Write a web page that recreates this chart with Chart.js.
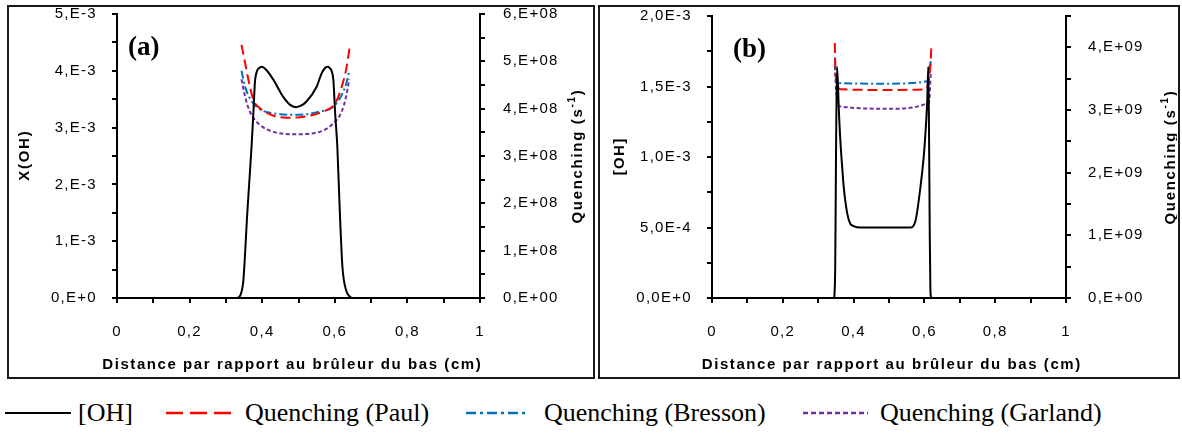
<!DOCTYPE html>
<html><head><meta charset="utf-8">
<script src="https://cdn.jsdelivr.net/npm/chart.js@4.4.1/dist/chart.umd.min.js"></script>
<style>
body{margin:0;background:#fff;width:1182px;height:434px;overflow:hidden;position:relative}
.box{position:absolute;border:2px solid #1a1a1a;box-sizing:border-box}
.cv{position:absolute}
.lt{position:absolute;top:396px;font-family:'Liberation Serif','Times New Roman',serif;font-size:26px;line-height:34px;white-space:nowrap;color:#000}
svg.ls{position:absolute;top:396px;height:34px}
</style></head>
<body>
<div class="box" style="left:7px;top:5px;width:588px;height:374px"></div>
<div class="box" style="left:598px;top:5px;width:582px;height:374px"></div>
<div class="cv" style="left:9px;top:7px;width:583px;height:371px"><canvas id="ca"></canvas></div>
<div class="cv" style="left:600px;top:7px;width:577px;height:371px"><canvas id="cb"></canvas></div>

<svg class="ls" style="left:5px;width:66px"><line x1="0" y1="17" x2="66" y2="17" stroke="#000" stroke-width="2"/></svg>
<div class="lt" style="left:78px">[OH]</div>
<svg class="ls" style="left:166px;width:65px"><line x1="0" y1="17" x2="65" y2="17" stroke="#ff0000" stroke-width="2.5" stroke-dasharray="17 7"/></svg>
<div class="lt" style="left:245px">Quenching (Paul)</div>
<svg class="ls" style="left:466px;width:63px"><line x1="0" y1="17" x2="63" y2="17" stroke="#0070c0" stroke-width="2.5" stroke-dasharray="10 4 3 4"/></svg>
<div class="lt" style="left:544px">Quenching (Bresson)</div>
<svg class="ls" style="left:803px;width:65px"><line x1="0" y1="17" x2="65" y2="17" stroke="#7030a0" stroke-width="2.5" stroke-dasharray="5 3"/></svg>
<div class="lt" style="left:880px">Quenching (Garland)</div>

<script>
// ---------- Shared x ticks ----------
const xTickValues = [0, 0.1, 0.2, 0.3, 0.4, 0.5, 0.6, 0.7, 0.8, 0.9, 1];
const xTickLabels = ['0', '', '0,2', '', '0,4', '', '0,6', '', '0,8', '', '1'];

// ---------- Panel (a) ----------
const aOhX = [0, 0.330, 0.340, 0.348, 0.353, 0.358, 0.364, 0.371, 0.376, 0.380, 0.386, 0.392, 0.399, 0.412, 0.431, 0.458, 0.477, 0.493, 0.508, 0.522, 0.550, 0.564, 0.572, 0.579, 0.586, 0.591, 0.596, 0.601, 0.607, 0.614, 0.621, 0.631, 0.642, 0.650, 1];
const aOhY = [0, 0, 0.05e-3, 0.30e-3, 0.80e-3, 1.40e-3, 2.00e-3, 2.70e-3, 3.30e-3, 3.80e-3, 4.00e-3, 4.05e-3, 4.07e-3, 4.01e-3, 3.84e-3, 3.54e-3, 3.40e-3, 3.36e-3, 3.39e-3, 3.46e-3, 3.72e-3, 3.96e-3, 4.04e-3, 4.07e-3, 4.05e-3, 4.00e-3, 3.84e-3, 3.25e-3, 2.66e-3, 1.49e-3, 0.55e-3, 0.14e-3, 0.02e-3, 0, 0];

const aPaulX = [0.343, 0.353, 0.362, 0.376, 0.394, 0.431, 0.467, 0.504, 0.541, 0.577, 0.601, 0.619, 0.631, 0.642];
const aPaulY = [5.35e8, 4.96e8, 4.61e8, 4.18e8, 4.01e8, 3.85e8, 3.81e8, 3.82e8, 3.87e8, 3.97e8, 4.11e8, 4.46e8, 4.82e8, 5.35e8];
const aBressonX = [0.343, 0.353, 0.366, 0.389, 0.431, 0.495, 0.559, 0.596, 0.619, 0.632, 0.640];
const aBressonY = [4.80e8, 4.46e8, 4.22e8, 4.01e8, 3.90e8, 3.87e8, 3.94e8, 4.04e8, 4.29e8, 4.54e8, 4.80e8];
const aGarlandX = [0.343, 0.353, 0.366, 0.389, 0.431, 0.495, 0.559, 0.596, 0.619, 0.631, 0.640];
const aGarlandY = [4.62e8, 4.25e8, 3.94e8, 3.69e8, 3.51e8, 3.46e8, 3.51e8, 3.69e8, 3.94e8, 4.25e8, 4.62e8];

const aLeftTickValues = [0, 0.5e-3, 1e-3, 1.5e-3, 2e-3, 2.5e-3, 3e-3, 3.5e-3, 4e-3, 4.5e-3, 5e-3];
const aLeftTickLabels = ['0,E+0', '', '1,E-3', '', '2,E-3', '', '3,E-3', '', '4,E-3', '', '5,E-3'];
const aRightTickValues = [0, 0.5e8, 1e8, 1.5e8, 2e8, 2.5e8, 3e8, 3.5e8, 4e8, 4.5e8, 5e8, 5.5e8, 6e8];
const aRightTickLabels = ['0,E+00', '', '1,E+08', '', '2,E+08', '', '3,E+08', '', '4,E+08', '', '5,E+08', '', '6,E+08'];

// ---------- Panel (b) ----------
const bOhX = [0, 0.344, 0.348, 0.350, 0.353, 0.356, 0.358, 0.363, 0.368, 0.372, 0.382, 0.390, 0.400, 0.420, 0.500, 0.560, 0.575, 0.589, 0.598, 0.603, 0.608, 0.611, 0.613, 0.615, 0.617, 0.620, 1];
const bOhY = [0, 0, 0.2e-3, 0.9e-3, 1.64e-3, 1.5e-3, 1.35e-3, 1.1e-3, 0.92e-3, 0.79e-3, 0.60e-3, 0.53e-3, 0.51e-3, 0.50e-3, 0.50e-3, 0.50e-3, 0.55e-3, 0.79e-3, 1.00e-3, 1.17e-3, 1.40e-3, 1.64e-3, 1.2e-3, 0.5e-3, 0.05e-3, 0, 0];

const bPaulX = [0.347, 0.348, 0.353, 0.363, 0.500, 0.603, 0.613, 0.618, 0.620];
const bPaulY = [4.07e9, 3.75e9, 3.43e9, 3.33e9, 3.32e9, 3.33e9, 3.49e9, 3.81e9, 4.05e9];
const bBressonX = [0.347, 0.351, 0.358, 0.500, 0.608, 0.618];
const bBressonY = [3.84e9, 3.54e9, 3.43e9, 3.42e9, 3.46e9, 3.78e9];
const bGarlandX = [0.347, 0.351, 0.358, 0.500, 0.613, 0.618];
const bGarlandY = [3.70e9, 3.28e9, 3.06e9, 3.02e9, 3.12e9, 3.60e9];

const bLeftTickValues = [0, 0.25e-3, 0.5e-3, 0.75e-3, 1e-3, 1.25e-3, 1.5e-3, 1.75e-3, 2e-3];
const bLeftTickLabels = ['0,0E+0', '', '5,0E-4', '', '1,0E-3', '', '1,5E-3', '', '2,0E-3'];
const bRightTickValues = [0, 0.5e9, 1e9, 1.5e9, 2e9, 2.5e9, 3e9, 3.5e9, 4e9, 4.5e9];
const bRightTickLabels = ['0,E+00', '', '1,E+09', '', '2,E+09', '', '3,E+09', '', '4,E+09', ''];

// ---------- helpers ----------
const pts = (xs, ys) => xs.map((x, i) => ({ x: x, y: ys[i] }));
const TICK_FONT = { family: "'Liberation Sans', Arial, sans-serif", size: 15 };

function series(label, xs, ys, axis, color, dash) {
  return {
    label: label, data: pts(xs, ys), yAxisID: axis,
    borderColor: color, backgroundColor: color, borderWidth: 2,
    borderDash: dash, pointRadius: 0, fill: false,
    cubicInterpolationMode: 'monotone'
  };
}

function axis(pos, min, max, values, labels, width, pad) {
  return {
    type: 'linear', position: pos, min: min, max: max,
    afterBuildTicks: s => { s.ticks = values.map(v => ({ value: v })); },
    afterFit: s => {
      if (pos === 'bottom') { s.height = width; s.paddingLeft = 0; s.paddingRight = 0; }
      else { s.width = width; s.paddingTop = 0; s.paddingBottom = 0; }
    },
    ticks: {
      autoSkip: false, maxRotation: 0, padding: pad, color: '#000', font: TICK_FONT,
      callback: (v, i) => labels[i]
    },
    grid: { drawOnChartArea: false, drawTicks: true, tickLength: 5, color: '#000', tickColor: '#000', lineWidth: 2 },
    border: { display: true, color: '#000', width: 2 }
  };
}

function drawFitted(ctx, text, cx, cy, len, font, rot) {
  ctx.save();
  ctx.font = font;
  ctx.letterSpacing = '0px';
  const w = ctx.measureText(text).width;
  const sp = len ? Math.max(0, (len - w) / text.length) : 0;
  ctx.letterSpacing = sp + 'px';
  ctx.translate(cx, cy); ctx.rotate(rot);
  ctx.textAlign = 'center'; ctx.textBaseline = 'middle'; ctx.fillStyle = '#000';
  ctx.fillText(text, sp / 2, 0);
  ctx.restore();
}

function drawQuenchTitle(ctx, cx, cy, len) {
  ctx.save();
  const f1 = "bold 15px 'Liberation Sans', Arial, sans-serif";
  const f2 = "bold 10px 'Liberation Sans', Arial, sans-serif";
  const parts = [['Quenching (s', f1, 0], ['-1', f2, -6], [')', f1, 0]];
  ctx.letterSpacing = '0px';
  let w = 0, n = 0;
  parts.forEach(p => { ctx.font = p[1]; w += ctx.measureText(p[0]).width; n += p[0].length; });
  const sp = Math.max(0, (len - w) / n);
  ctx.letterSpacing = sp + 'px';
  let total = 0;
  parts.forEach(p => { ctx.font = p[1]; p.push(ctx.measureText(p[0]).width); total += p[3]; });
  ctx.translate(cx, cy); ctx.rotate(-Math.PI / 2);
  ctx.textAlign = 'left'; ctx.textBaseline = 'middle'; ctx.fillStyle = '#000';
  let x = -total / 2;
  parts.forEach(p => { ctx.font = p[1]; ctx.fillText(p[0], x, p[2]); x += p[3]; });
  ctx.restore();
}

function titlesPlugin(cfg) {
  return {
    id: 'titles',
    beforeDraw: chart => { chart.ctx.letterSpacing = '1.3px'; },
    afterDraw: chart => {
      const ctx = chart.ctx, a = chart.chartArea;
      const midY = (a.top + a.bottom) / 2;
      const bold = "bold 15px 'Liberation Sans', Arial, sans-serif";
      drawFitted(ctx, cfg.left, a.left - cfg.leftOff, midY, cfg.leftLen, bold, -Math.PI / 2);
      drawQuenchTitle(ctx, a.right + cfg.rightOff, midY, 135);
      drawFitted(ctx, 'Distance par rapport au brûleur du bas (cm)', (a.left + a.right) / 2 + cfg.xShift, a.bottom + 67, 380, bold, 0);
      ctx.save();
      ctx.letterSpacing = '0px';
      ctx.font = "bold 27px 'Liberation Serif', 'Times New Roman', serif";
      ctx.textAlign = 'left'; ctx.textBaseline = 'middle'; ctx.fillStyle = '#000';
      ctx.fillText(cfg.tag, a.left + cfg.tagX, a.top + cfg.tagY);
      ctx.restore();
      ctx.letterSpacing = '1.3px';
    }
  };
}

function makeChart(id, datasets, xAx, yAx, y1Ax, padTop, tcfg) {
  return new Chart(document.getElementById(id), {
    type: 'line',
    data: { datasets: datasets },
    options: {
      responsive: true, maintainAspectRatio: false, animation: false,
      layout: { padding: { top: padTop, left: 0, right: 0, bottom: 0 } },
      plugins: { legend: { display: false }, tooltip: { enabled: false } },
      scales: { x: xAx, y: yAx, y1: y1Ax }
    },
    plugins: [titlesPlugin(tcfg)]
  });
}

makeChart('ca', [
  series('[OH]', aOhX, aOhY, 'y', '#000000', []),
  series('Quenching (Paul)', aPaulX, aPaulY, 'y1', '#ff0000', [10, 5]),
  series('Quenching (Bresson)', aBressonX, aBressonY, 'y1', '#0070c0', [8, 3, 2, 3]),
  series('Quenching (Garland)', aGarlandX, aGarlandY, 'y1', '#7030a0', [4, 2.5])
],
  axis('bottom', 0, 1, xTickValues, xTickLabels, 80, 20),
  axis('left', 0, 5e-3, aLeftTickValues, aLeftTickLabels, 108, 15),
  axis('right', 0, 6e8, aRightTickValues, aRightTickLabels, 112, 18),
  7, { left: 'X(OH)', leftOff: 92, leftLen: 51, rightOff: 98, xShift: -7, tag: '(a)', tagX: 11, tagY: 34 });

makeChart('cb', [
  series('[OH]', bOhX, bOhY, 'y', '#000000', []),
  series('Quenching (Paul)', bPaulX, bPaulY, 'y1', '#ff0000', [10, 5]),
  series('Quenching (Bresson)', bBressonX, bBressonY, 'y1', '#0070c0', [8, 3, 2, 3]),
  series('Quenching (Garland)', bGarlandX, bGarlandY, 'y1', '#7030a0', [4, 2.5])
],
  axis('bottom', 0, 1, xTickValues, xTickLabels, 80, 20),
  axis('left', 0, 2e-3, bLeftTickValues, bLeftTickLabels, 112, 15),
  axis('right', 0, 4.5e9, bRightTickValues, bRightTickLabels, 111, 17),
  9, { left: '[OH]', leftOff: 92, leftLen: 38, rightOff: 105, xShift: 2, tag: '(b)', tagX: 21, tagY: 34 });
</script>
</body></html>
